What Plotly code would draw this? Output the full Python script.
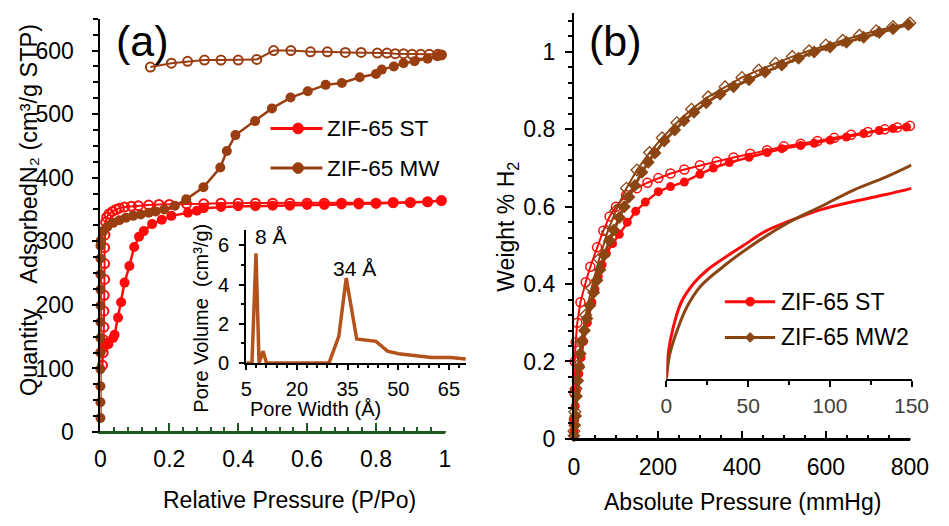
import plotly.graph_objects as go

W, H = 949, 526

# ---------------- Panel (a) data: N2 isotherms ----------------
st_ads_p = [0.0, 0.008, 0.018, 0.023, 0.037, 0.041, 0.051, 0.06, 0.07, 0.084, 0.098, 0.112, 0.126,
            0.15, 0.178, 0.206, 0.254, 0.28, 0.3, 0.35, 0.4, 0.45, 0.5, 0.55, 0.6, 0.65, 0.7,
            0.75, 0.8, 0.85, 0.9, 0.95, 0.99]
st_ads_q = [125, 132, 140, 138, 148, 153, 180, 204, 235, 261, 291, 307, 316,
            327, 334, 340, 345, 348, 352, 354, 355, 355, 356, 356, 357, 357, 358,
            358, 359, 360, 361, 362, 364]

st_des_p = [0.99, 0.95, 0.9, 0.85, 0.8, 0.75, 0.7, 0.65, 0.6, 0.55, 0.5, 0.45, 0.4, 0.35, 0.3,
            0.25, 0.2, 0.17, 0.14, 0.11, 0.09, 0.07, 0.055, 0.045, 0.035, 0.025, 0.018, 0.015,
            0.013, 0.012, 0.012, 0.012, 0.011, 0.01, 0.01, 0.009, 0.008, 0.006]
st_des_q = [364, 362, 361, 361, 360, 360, 360, 360, 360, 360, 360, 360, 360, 360, 359,
            359, 358, 358, 357, 356, 355, 354, 352, 350, 347, 343, 338, 330,
            310, 290, 265, 240, 215, 190, 165, 145, 125, 105]

mw_ads_p = [0, 0, 0, 0, 0, 0, 0, 0, 0, 0, 0, 0, 0.001, 0.008, 0.02, 0.037, 0.055, 0.074, 0.095,
            0.117, 0.14, 0.16, 0.185, 0.216, 0.249, 0.299, 0.348, 0.367, 0.392, 0.449, 0.498,
            0.552, 0.602, 0.654, 0.701, 0.753, 0.80, 0.817, 0.852, 0.88, 0.912, 0.95, 0.978, 0.99]
mw_ads_q = [22, 47, 72, 99, 125, 148, 173, 199, 224, 248, 273, 293, 301, 316, 323, 329, 333, 337,
            340, 342, 345, 347, 350, 356, 366, 385, 416, 442, 467, 489, 509,
            526, 536, 546, 549, 558, 563, 570, 575, 580, 583, 587, 591, 593]

mw_des_p = [0.99, 0.98, 0.955, 0.93, 0.905, 0.88, 0.856, 0.832, 0.804, 0.757, 0.711, 0.659,
            0.610, 0.553, 0.503, 0.454, 0.400, 0.350, 0.302, 0.253, 0.206, 0.145]
mw_des_q = [593, 594, 594, 594, 594, 595, 595, 596, 596, 597, 597, 598,
            598, 600, 600, 586, 585, 585, 585, 583, 580, 574]

# inset (a): pore size distribution
pore_w = [5, 6.7, 7.9, 8.8, 10.0, 11.0, 29.5, 32.4, 34.6, 37.7, 43.4, 46.8, 50.1, 55, 59.8, 65.5, 70]
pore_v = [0, 0, 5.6, 0, 0.61, 0, 0, 1.36, 4.34, 1.23, 1.11, 0.61, 0.48, 0.40, 0.28, 0.28, 0.21]

# ---------------- Panel (b) data: H2 isotherms ----------------
st_h2_ads_p = [0, 1, 3, 6, 11.6, 17, 23, 32, 42.6, 50, 58, 67, 77, 92, 108, 127, 147, 170, 201,
               230, 263, 300, 332, 370, 417, 460, 495, 540, 572, 610, 649, 690, 727, 760, 792]
st_h2_ads_w = [0.018, 0.05, 0.085, 0.125, 0.168, 0.21, 0.252, 0.30, 0.353, 0.387, 0.420, 0.45,
               0.479, 0.505, 0.529, 0.560, 0.588, 0.612, 0.639, 0.652, 0.664, 0.684, 0.700,
               0.714, 0.728, 0.740, 0.750, 0.758, 0.764, 0.772, 0.780, 0.789, 0.797, 0.802, 0.806]

st_h2_des_p = [800, 770, 740, 700, 660, 620, 580, 540, 500, 460, 420, 380, 340, 300, 263, 230,
               201, 175, 150, 124, 100, 85, 70, 55, 39, 28, 15.5, 8, 4, 2, 1, 0]
st_h2_des_w = [0.809, 0.805, 0.800, 0.793, 0.786, 0.778, 0.770, 0.763, 0.756, 0.746, 0.737,
               0.727, 0.717, 0.707, 0.696, 0.686, 0.674, 0.662, 0.648, 0.630, 0.600, 0.575,
               0.538, 0.495, 0.445, 0.405, 0.353, 0.30, 0.25, 0.20, 0.12, 0.05]

mw_h2_ads_p = [0, 2, 4, 6, 9, 12, 15, 19.5, 25, 31, 38, 47, 55, 62, 72, 85, 95, 108, 120, 131,
               145, 162, 177, 193, 215, 240, 262, 286, 315, 348, 380, 417, 455, 495, 535, 572,
               610, 649, 690, 727, 760, 796]
mw_h2_ads_w = [0.008, 0.035, 0.059, 0.11, 0.15, 0.185, 0.22, 0.252, 0.28, 0.311, 0.345, 0.378,
               0.41, 0.437, 0.475, 0.512, 0.54, 0.572, 0.600, 0.625, 0.655, 0.689, 0.715, 0.739,
               0.770, 0.798, 0.822, 0.844, 0.869, 0.891, 0.910, 0.928, 0.948, 0.966, 0.984,
               1.000, 1.013, 1.025, 1.038, 1.050, 1.060, 1.071]

mw_h2_des_p = [800, 760, 720, 680, 640, 600, 560, 520, 480, 440, 400, 360, 320, 280, 245, 210,
               180, 150, 125, 100, 80, 60, 42, 28, 17, 10, 5, 2, 0]
mw_h2_des_w = [1.075, 1.066, 1.055, 1.043, 1.030, 1.018, 1.003, 0.988, 0.971, 0.953, 0.934,
               0.910, 0.884, 0.852, 0.817, 0.778, 0.740, 0.695, 0.648, 0.590, 0.535, 0.465,
               0.390, 0.320, 0.250, 0.19, 0.13, 0.07, 0.02]

# inset (b): low-pressure fits
st_fit_p = [0, 1.0, 4.0, 9.0, 17, 25, 35, 47, 61, 75, 94.6, 114.5, 134.4, 150]
st_fit_w = [0, 0.063, 0.130, 0.197, 0.248, 0.281, 0.311, 0.344, 0.382, 0.407, 0.437, 0.458, 0.476, 0.492]
mw_fit_p = [0, 2.0, 7.0, 13, 20.9, 34.8, 50.7, 74.5, 94.5, 114.3, 134.2, 150]
mw_fit_w = [0, 0.063, 0.130, 0.189, 0.239, 0.290, 0.340, 0.403, 0.445, 0.487, 0.521, 0.552]

# tick labels
a_x_ticks = [0, 0.2, 0.4, 0.6, 0.8, 1]
a_y_ticks = [0, 100, 200, 300, 400, 500, 600]
ai_x_ticks = [5, 20, 35, 50, 65]
ai_y_ticks = [0, 2, 4, 6]
b_x_ticks = [0, 200, 400, 600, 800]
b_y_ticks = [0, 0.2, 0.4, 0.6, 0.8, 1]
bi_x_ticks = [0, 50, 100, 150]

RED = "#FF0A0A"
BROWN_A = "#9A3D10"
BROWN_AI = "#B4521C"
BROWN_B = "#8B4513"
GREEN = "#1E5A1E"
FONT = "Liberation Sans, Arial, sans-serif"


def fx(px):
    return px / W


def fy(py):
    return 1 - py / H


fig = go.Figure()

# panel (a) main
fig.add_trace(go.Scatter(x=st_ads_p, y=st_ads_q, mode="lines+markers", xaxis="x", yaxis="y",
                         line=dict(color=RED, width=2.5), cliponaxis=False,
                         marker=dict(symbol="circle", size=10, color=RED)))
fig.add_trace(go.Scatter(x=st_des_p, y=st_des_q, mode="lines+markers", xaxis="x", yaxis="y",
                         line=dict(color=RED, width=2), cliponaxis=False,
                         marker=dict(symbol="circle-open", size=9, color=RED, line=dict(width=2))))
fig.add_trace(go.Scatter(x=mw_des_p, y=mw_des_q, mode="lines+markers", xaxis="x", yaxis="y",
                         line=dict(color=BROWN_A, width=2), cliponaxis=False,
                         marker=dict(symbol="circle-open", size=9, color=BROWN_A, line=dict(width=2))))
fig.add_trace(go.Scatter(x=mw_ads_p, y=mw_ads_q, mode="lines+markers", xaxis="x", yaxis="y",
                         line=dict(color=BROWN_A, width=2.5), cliponaxis=False,
                         marker=dict(symbol="circle", size=10, color=BROWN_A)))

# panel (a) inset
fig.add_trace(go.Scatter(x=pore_w, y=pore_v, mode="lines", xaxis="x2", yaxis="y2",
                         line=dict(color=BROWN_AI, width=3.5), cliponaxis=False))

# panel (b) main
fig.add_trace(go.Scatter(x=st_h2_ads_p, y=st_h2_ads_w, mode="lines+markers", xaxis="x3", yaxis="y3",
                         line=dict(color=RED, width=2.5), cliponaxis=False,
                         marker=dict(symbol="circle", size=9, color=RED)))
fig.add_trace(go.Scatter(x=st_h2_des_p, y=st_h2_des_w, mode="lines+markers", xaxis="x3", yaxis="y3",
                         line=dict(color=RED, width=2), cliponaxis=False,
                         marker=dict(symbol="circle-open", size=9, color=RED, line=dict(width=1.5))))
fig.add_trace(go.Scatter(x=mw_h2_des_p, y=mw_h2_des_w, mode="lines+markers", xaxis="x3", yaxis="y3",
                         line=dict(color=BROWN_B, width=2), cliponaxis=False,
                         marker=dict(symbol="diamond-open", size=9, color=BROWN_B, line=dict(width=1.3))))
fig.add_trace(go.Scatter(x=mw_h2_ads_p, y=mw_h2_ads_w, mode="lines+markers", xaxis="x3", yaxis="y3",
                         line=dict(color=BROWN_B, width=3), cliponaxis=False,
                         marker=dict(symbol="diamond", size=10, color=BROWN_B)))

# panel (b) inset
fig.add_trace(go.Scatter(x=st_fit_p, y=st_fit_w, mode="lines", xaxis="x4", yaxis="y4",
                         line=dict(color=RED, width=3, shape="spline"), cliponaxis=False))
fig.add_trace(go.Scatter(x=mw_fit_p, y=mw_fit_w, mode="lines", xaxis="x4", yaxis="y4",
                         line=dict(color=BROWN_B, width=3, shape="spline"), cliponaxis=False))

tick_font = dict(family=FONT, size=23, color="black")
inset_font = dict(family=FONT, size=20, color="black")

common = dict(showgrid=False, zeroline=False, showline=True, linewidth=2, fixedrange=True,
              mirror=False, layer="above traces")

fig.update_layout(
    width=W, height=H, autosize=False, showlegend=False,
    margin=dict(l=0, r=0, t=0, b=0),
    paper_bgcolor="white", plot_bgcolor="rgba(0,0,0,0)",
    font=dict(family=FONT, color="black"),
    xaxis=dict(domain=[fx(97), fx(450.7)], range=[0, 1], anchor="y", linecolor=GREEN,
               tickvals=a_x_ticks, ticks="inside", ticklen=9, tickwidth=2, tickcolor=GREEN,
               minor=dict(dtick=0.04, ticks="inside", ticklen=5, tickwidth=1.5, tickcolor=GREEN),
               tickfont=tick_font, ticklabelstandoff=5, **common),
    yaxis=dict(domain=[fy(443), fy(19.2)], range=[0, 650], anchor="x", linecolor="black",
               tickvals=a_y_ticks, ticks="outside", ticklen=6, tickwidth=2, tickcolor="black",
               minor=dict(dtick=25, ticks="outside", ticklen=5, tickwidth=1.5, tickcolor="black"),
               tickfont=tick_font, ticklabelstandoff=14, **common),
    xaxis2=dict(domain=[fx(246.7), fx(472.3)], range=[5, 70], anchor="y2", linecolor="black",
                tickvals=ai_x_ticks, ticks="outside", ticklen=5, tickwidth=2, tickcolor="black",
                minor=dict(dtick=3, tick0=5, ticks="outside", ticklen=3, tickwidth=1.5, tickcolor="black"),
                tickfont=inset_font, ticklabelstandoff=2, **common),
    yaxis2=dict(domain=[fy(372.3), fy(235.6)], range=[0, 6.8], anchor="x2", linecolor="black",
                tickvals=ai_y_ticks, ticks="outside", ticklen=5, tickwidth=2, tickcolor="black",
                minor=dict(dtick=1, ticks="outside", ticklen=3, tickwidth=1.5, tickcolor="black"),
                tickfont=inset_font, ticklabelstandoff=6, **common),
    xaxis3=dict(domain=[fx(583.3), fx(928.3)], range=[0, 800], anchor="y3", linecolor="black",
                tickvals=b_x_ticks, ticks="inside", ticklen=8, tickwidth=2, tickcolor="black",
                minor=dict(dtick=50, ticks="inside", ticklen=4, tickwidth=1.5, tickcolor="black"),
                tickfont=tick_font, ticklabelstandoff=7, **common),
    yaxis3=dict(domain=[fy(450), fy(13.6)], range=[0, 1.1], anchor="x3", linecolor="black",
                tickvals=b_y_ticks, ticks="outside", ticklen=7, tickwidth=2, tickcolor="black",
                minor=dict(dtick=0.04, ticks="outside", ticklen=4, tickwidth=1.5, tickcolor="black"),
                tickfont=tick_font, ticklabelstandoff=5, **common),
    xaxis4=dict(domain=[fx(678.3), fx(930)], range=[0, 150], anchor="y4", linecolor="black",
                tickvals=bi_x_ticks, ticks="outside", ticklen=6, tickwidth=2, tickcolor="black",
                minor=dict(dtick=25, ticks="outside", ticklen=4, tickwidth=1.5, tickcolor="black"),
                tickfont=dict(family=FONT, size=21, color="#404040"), ticklabelstandoff=1, **common),
    yaxis4=dict(domain=[fy(388.3), fy(150)], range=[0, 0.6007], anchor="x4", visible=False,
                showgrid=False, zeroline=False, fixedrange=True),
)

ann = []


def text(s, px, py, size, angle=0, xanchor="center", color="black"):
    ann.append(dict(text=s, x=fx(px), y=fy(py), xref="paper", yref="paper", showarrow=False,
                    xanchor=xanchor, yanchor="middle", textangle=angle,
                    font=dict(family=FONT, size=size, color=color)))


NB = "\u00a0"
text("(a)", 140, 42, 43)
text("(b)", 626, 42, 43)
text("Relative Pressure (P/Po)", 291, 513, 23)
text("Absolute Pressure (mmHg)", 756, 515, 23)
text("Quantity" + NB * 3 + " AdsorbedN\u2082 (cm\u00b3/g STP)", 23, 215, 23.5, angle=-90)
text("Weight % H<sub>2</sub>", 515, 232, 23, angle=-90)
text("Pore Volume" + NB + " (cm\u00b3/g)", 200, 326, 20, angle=-90)
text("Pore Width (Å)", 317.5, 419, 20)
text("8 Å", 272, 243, 21)
text("34 Å", 358, 275, 21)
text("ZIF-65 ST", 328, 131.7, 22.5, xanchor="left")
text("ZIF-65 MW", 328, 172.3, 22.5, xanchor="left")
text("ZIF-65 ST", 794, 309.3, 23, xanchor="left")
text("ZIF-65 MW2", 794, 346, 23, xanchor="left")

shapes = []


def hline(x0, x1, py, color, width):
    shapes.append(dict(type="line", xref="paper", yref="paper", x0=fx(x0), x1=fx(x1),
                       y0=fy(py), y1=fy(py), line=dict(color=color, width=width), layer="above"))


def legcircle(px, py, r, color):
    shapes.append(dict(type="circle", xref="paper", yref="paper", x0=fx(px - r), x1=fx(px + r),
                       y0=fy(py + r), y1=fy(py - r), fillcolor=color, line=dict(color=color, width=1)))


def legdiamond(px, py, r, color):
    path = "M {},{} L {},{} L {},{} L {},{} Z".format(
        fx(px), fy(py - r), fx(px + r), fy(py), fx(px), fy(py + r), fx(px - r), fy(py))
    shapes.append(dict(type="path", xref="paper", yref="paper", path=path,
                       fillcolor=color, line=dict(color=color, width=1)))


# x axis baselines (plotly hides them when minor ticks are drawn inside)
hline(96, 451.7, 443, GREEN, 2)
hline(582.3, 929, 450, "black", 2)

# legends
hline(271.7, 325, 131.7, RED, 3)
legcircle(300, 131.7, 5.5, RED)
hline(271.7, 325, 172.3, BROWN_A, 3)
legcircle(300, 172.3, 5.5, BROWN_A)
hline(738.3, 790, 309.3, RED, 3)
legcircle(764.3, 309.3, 4.5, RED)
hline(738.3, 790, 346, BROWN_B, 3)
legdiamond(764.3, 346, 5, BROWN_B)

fig.update_layout(annotations=ann, shapes=shapes)

fig.write_html("out.html", config={"displayModeBar": False},
               post_script="document.documentElement.style.margin='0';document.body.style.margin='0';")
